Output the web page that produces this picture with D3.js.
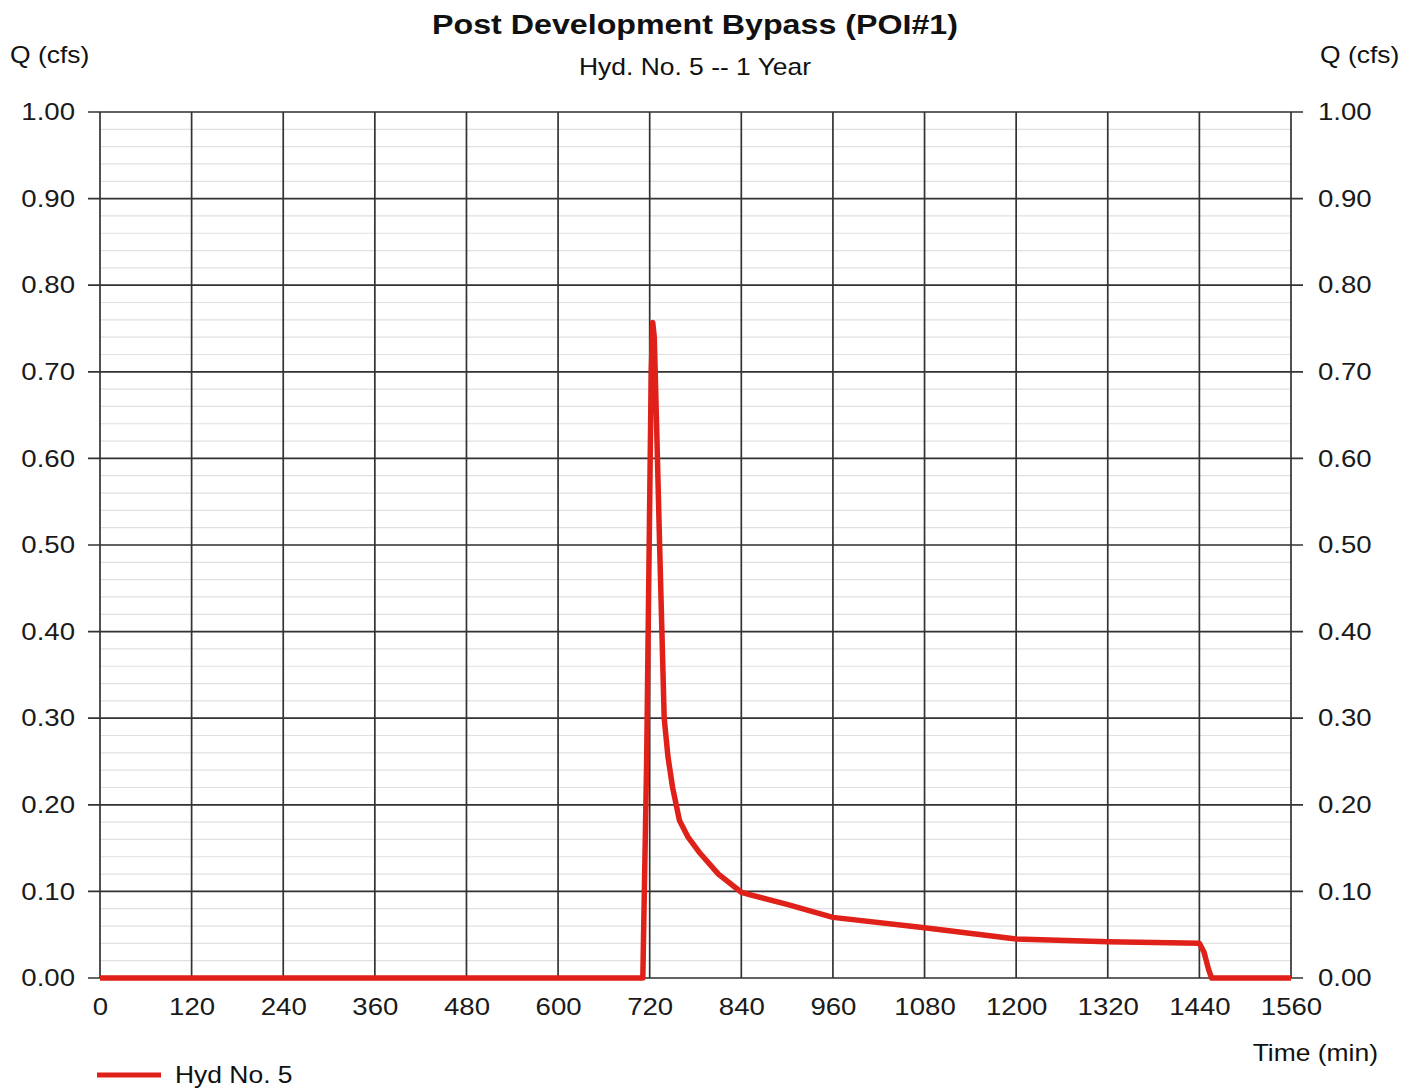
<!DOCTYPE html>
<html>
<head>
<meta charset="utf-8">
<script src="https://cdn.jsdelivr.net/npm/d3@7"></script>
<style>
  html, body { margin: 0; padding: 0; background: #fff; }
  svg { display: block; font-family: "Liberation Sans", Arial, sans-serif; }
</style>
</head>
<body>
<svg id="chart" width="1416" height="1088"></svg>
<script>
// Hydrograph: time (min) vs discharge Q (cfs)
const timeMin = [0, 711, 716, 720, 722, 724, 726, 729, 733, 736, 739, 744, 750, 759, 770, 786, 810, 840, 852, 900, 960, 1080, 1200, 1320, 1440, 1446, 1452, 1456, 1560];
const flowCfs = [0, 0, 0.25, 0.55, 0.70, 0.757, 0.74, 0.64, 0.50, 0.40, 0.30, 0.255, 0.22, 0.182, 0.163, 0.144, 0.12, 0.099, 0.096, 0.085, 0.070, 0.058, 0.045, 0.042, 0.040, 0.030, 0.010, 0, 0];
const xTicks = [0, 120, 240, 360, 480, 600, 720, 840, 960, 1080, 1200, 1320, 1440, 1560];
const yTicks = [0, 0.1, 0.2, 0.3, 0.4, 0.5, 0.6, 0.7, 0.8, 0.9, 1.0];
const yMinorTicks = d3.range(0, 1.0001, 0.02);
const seriesName = "Hyd No. 5";

const svg = d3.select("#chart");
const plotLeft = 100, plotRight = 1291, plotTop = 112, plotBottom = 978;
const stretch = 1.15;           // horizontal widening of all lettering
const lineRed = "#df2119";

const x = d3.scaleLinear().domain([0, 1560]).range([plotLeft, plotRight]);
const y = d3.scaleLinear().domain([0, 1]).range([plotBottom, plotTop]);

// text helper: places a horizontally widened label with its anchor at (px, py)
function label(px, py, str, size, anchor, weight) {
  return svg.append("text")
    .attr("transform", `translate(${px},${py}) scale(${stretch},1)`)
    .attr("text-anchor", anchor || "start")
    .attr("font-size", size)
    .attr("font-weight", weight || "normal")
    .attr("fill", "#111")
    .text(str);
}

// minor horizontal grid
svg.append("g").selectAll("line").data(yMinorTicks).join("line")
  .attr("x1", plotLeft).attr("x2", plotRight)
  .attr("y1", d => y(d)).attr("y2", d => y(d))
  .attr("stroke", "#e0e0e0").attr("stroke-width", 1.2);

// major vertical grid
svg.append("g").selectAll("line").data(xTicks).join("line")
  .attr("x1", d => x(d)).attr("x2", d => x(d))
  .attr("y1", plotTop).attr("y2", plotBottom)
  .attr("stroke", "#333").attr("stroke-width", 1.7);

// major horizontal grid with outer tick stubs on both sides
svg.append("g").selectAll("line").data(yTicks).join("line")
  .attr("x1", plotLeft - 12).attr("x2", plotRight + 12)
  .attr("y1", d => y(d)).attr("y2", d => y(d))
  .attr("stroke", "#333").attr("stroke-width", 1.7);

// axis labels
const fmtQ = d3.format(".2f");
const gl = svg.append("g").attr("transform", `translate(${plotLeft},0)`)
  .call(d3.axisLeft(y).tickValues(yTicks).tickFormat(fmtQ).tickSize(0).tickPadding(25));
const gr = svg.append("g").attr("transform", `translate(${plotRight},0)`)
  .call(d3.axisRight(y).tickValues(yTicks).tickFormat(fmtQ).tickSize(0).tickPadding(27));
const gb = svg.append("g").attr("transform", `translate(0,${plotBottom})`)
  .call(d3.axisBottom(x).tickValues(xTicks).tickFormat(d3.format("d")).tickSize(0).tickPadding(20));
[gl, gr, gb].forEach(g => {
  g.select(".domain").remove();
  g.selectAll("text").each(function () {
    const t = d3.select(this);
    const tx = +t.attr("x") || 0;
    t.attr("x", tx / stretch)
     .attr("transform", `scale(${stretch},1)`)
     .attr("font-size", 24).attr("fill", "#1a1a1a")
     .attr("font-family", "'Liberation Sans', Arial, sans-serif");
  });
});

// hydrograph line
const line = d3.line().x((d, i) => x(timeMin[i])).y(d => y(d));
svg.append("path").datum(flowCfs)
  .attr("d", line)
  .attr("fill", "none")
  .attr("stroke", lineRed)
  .attr("stroke-width", 5.5)
  .attr("stroke-linejoin", "round");

// titles
label(695, 34, "Post Development Bypass (POI#1)", 28, "middle", "bold");
label(695, 75, "Hyd. No. 5 -- 1 Year", 23, "middle");
label(10, 63, "Q (cfs)", 23, "start");
label(1320, 63, "Q (cfs)", 23, "start");
label(1378, 1061, "Time (min)", 23, "end");

// legend
svg.append("line").attr("x1", 97).attr("x2", 161).attr("y1", 1075).attr("y2", 1075)
  .attr("stroke", lineRed).attr("stroke-width", 5);
label(175, 1083, seriesName, 23, "start");
</script>
</body>
</html>
